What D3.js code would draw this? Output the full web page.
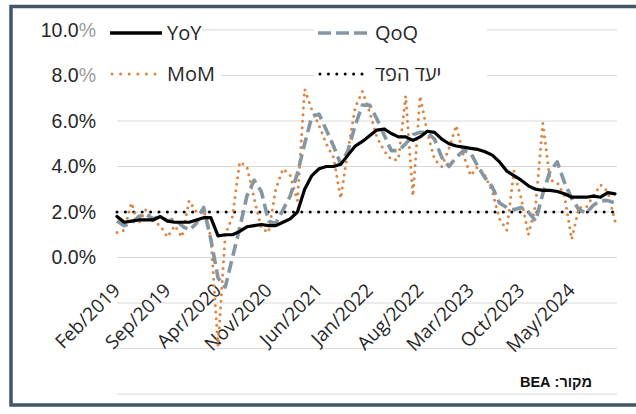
<!DOCTYPE html>
<html>
<head>
<meta charset="utf-8">
<script src="https://cdn.jsdelivr.net/npm/d3@7"></script>
<style>
  html, body { margin: 0; padding: 0; background: #fff; }
  svg { display: block; font-family: "Open Sans", Lato, "Liberation Sans", "DejaVu Sans", sans-serif; }
</style>
</head>
<body>
<svg id="chart" width="636" height="414"></svg>
<script>
// Core PCE inflation, monthly observations Feb 2019 – Nov 2024 (percent)
const months = d3.timeMonth.range(new Date(2019, 1, 1), new Date(2024, 11, 1));
const monthKeys = months.map(d3.timeFormat("%Y-%m"));

// Year over year
const yoy = [1.8, 1.55, 1.6, 1.65, 1.65, 1.65, 1.8, 1.6, 1.55, 1.55, 1.55, 1.65,
  1.75, 1.75, 0.95, 1.0, 1.0, 1.15, 1.35, 1.4, 1.45, 1.4, 1.4, 1.55,
  1.7, 2.0, 3.0, 3.6, 3.9, 4.0, 4.0, 4.1, 4.5, 4.9, 5.1, 5.35,
  5.6, 5.65, 5.45, 5.3, 5.3, 5.15, 5.3, 5.55, 5.5, 5.2, 5.0, 4.9,
  4.85, 4.8, 4.75, 4.65, 4.5, 4.2, 3.8, 3.6, 3.4, 3.15, 3.0, 2.95,
  2.95, 2.9, 2.8, 2.65, 2.65, 2.65, 2.7, 2.65, 2.85, 2.8];

// Three months annualized
const qoq = [1.6, 1.4, 1.5, 1.8, 1.9, 1.7, 1.8, 1.6, 1.7, 1.4, 1.2, 1.5,
  2.2, 0.8, -0.9, -1.3, 0.0, 1.3, 2.7, 3.4, 2.9, 1.6, 1.5, 2.1,
  2.7, 3.7, 5.0, 6.2, 6.3, 5.6, 4.9, 4.1, 4.7, 5.8, 6.7, 6.7,
  6.1, 5.4, 4.7, 4.7, 5.0, 5.4, 5.5, 5.5, 5.2, 4.4, 4.0, 4.4,
  4.7, 4.6, 4.0, 3.5, 3.1, 2.4, 2.2, 2.1, 2.2, 2.0, 1.6, 2.8,
  3.8, 4.2, 3.3, 2.6, 2.1, 1.95, 2.3, 2.5, 2.5, 2.4];

// Month over month, annualized
const mom = [1.1, 1.2, 2.4, 1.5, 2.1, 1.6, 1.4, 0.9, 1.4, 0.9, 2.5, 2.0,
  2.1, 0.9, -3.9, 1.0, 1.8, 4.2, 4.0, 2.6, 1.3, 1.1, 3.0, 3.9,
  3.6, 2.5, 7.4, 6.5, 5.8, 5.0, 4.4, 2.6, 4.7, 6.6, 7.3, 6.4,
  5.3, 4.7, 4.3, 4.3, 7.1, 2.7, 7.1, 5.5, 4.3, 4.0, 4.8, 5.8,
  4.5, 3.6, 4.0, 3.6, 2.9, 1.7, 1.2, 3.8, 2.6, 1.0, 2.3, 5.9,
  3.4, 3.3, 2.7, 0.8, 2.2, 2.2, 2.7, 3.2, 2.9, 1.6];

const fedTarget = 2;

const tickLabels = ["Feb/2019", "Sep/2019", "Apr/2020", "Nov/2020", "Jun/2021",
  "Jan/2022", "Aug/2022", "Mar/2023", "Oct/2023", "May/2024"];
const gridValues = [-6, -4, -2, 0, 2, 4, 6, 8, 10];
const labelValues = [0, 2, 4, 6, 8, 10];

const legendNames = { yoy: "YoY", qoq: "QoQ", mom: "MoM", fed: "יעד הפד" };
const sourceText = "מקור: BEA";

// ---- drawing ----
const svg = d3.select("#chart");
const colors = { yoy: "#000000", qoq: "#8496a2", mom: "#de8442", fed: "#000000", grid: "#d9d9d9", text: "#262626" };

const x = d3.scalePoint().domain(monthKeys).range([117, 615]);
const y = d3.scaleLinear().domain([-6, 10]).range([394, 30]);

// frame
svg.append("rect").attr("x", 0).attr("y", 0).attr("width", 636).attr("height", 414).attr("fill", "#fff");
svg.append("rect")
  .attr("x", 11).attr("y", 6.5).attr("width", 640).attr("height", 398.5)
  .attr("fill", "none").attr("stroke", "#44546a").attr("stroke-width", 3.5);

// gridlines
svg.append("g").selectAll("line").data(gridValues).join("line")
  .attr("x1", 117).attr("x2", 617)
  .attr("y1", d => y(d)).attr("y2", d => y(d))
  .attr("stroke", colors.grid).attr("stroke-width", 1.2);

// y axis labels (the legend box fades the percent sign on the top two)
const yAxis = svg.append("g").attr("transform", "translate(96,0)")
  .call(d3.axisLeft(y).tickValues(labelValues).tickSize(0).tickPadding(0)
    .tickFormat(() => ""));
yAxis.select(".domain").remove();
yAxis.selectAll(".tick text").each(function(d) {
  const t = d3.select(this).attr("fill", colors.text).attr("font-size", 19.5);
  t.append("tspan").text(d3.format(".1f")(d));
  t.append("tspan").attr("fill", d >= 8 ? "#9a9a9a" : colors.text).text("%");
});

// x axis labels, every seventh month
const xAxis = svg.append("g").attr("transform", `translate(0,${y(0)})`)
  .call(d3.axisBottom(x).tickValues(monthKeys.filter((d, i) => i % 7 === 0))
    .tickSize(0).tickFormat((d, i) => tickLabels[i]));
xAxis.select(".domain").remove();
xAxis.selectAll("text")
  .attr("y", 0).attr("dy", 0)
  .attr("transform", "translate(4,34) rotate(-45)")
  .attr("text-anchor", "end")
  .attr("fill", colors.text).attr("font-size", 19)
  .attr("font-family", "'Open Sans', Lato, sans-serif");

// Fed target
svg.append("line")
  .attr("x1", x(monthKeys[0])).attr("x2", x(monthKeys[monthKeys.length - 1]))
  .attr("y1", y(fedTarget)).attr("y2", y(fedTarget))
  .attr("stroke", colors.fed).attr("stroke-width", 3)
  .attr("stroke-linecap", "round").attr("stroke-dasharray", "0,8.4");

const line = d3.line().x((d, i) => x(monthKeys[i])).y(d => y(d));

const styles = {
  mom: { stroke: colors.mom, width: 3, dash: "0,6.6", cap: "round" },
  qoq: { stroke: colors.qoq, width: 3.6, dash: "12,5.5", cap: "butt" },
  yoy: { stroke: colors.yoy, width: 3.2, dash: null, cap: "round" }
};
const seriesData = { mom, qoq, yoy };

["mom", "qoq", "yoy"].forEach(k => {
  svg.append("path").datum(seriesData[k])
    .attr("d", line)
    .attr("fill", "none")
    .attr("stroke", styles[k].stroke)
    .attr("stroke-width", styles[k].width)
    .attr("stroke-linecap", styles[k].cap)
    .attr("stroke-linejoin", "round")
    .attr("stroke-dasharray", styles[k].dash);
});

// legend
const legendItems = [
  { key: "yoy", col: 0, row: 0, boxEnd: 202 },
  { key: "qoq", col: 1, row: 0, boxEnd: 487 },
  { key: "mom", col: 0, row: 1, boxEnd: 221 },
  { key: "fed", col: 1, row: 1, boxEnd: 487 }
];
const legendStyle = {
  yoy: { stroke: colors.yoy, width: 3.5, dash: null, cap: "butt" },
  qoq: { stroke: colors.qoq, width: 3.6, dash: "13,5", cap: "butt" },
  mom: { stroke: colors.mom, width: 3, dash: "0,8.6", cap: "round" },
  fed: { stroke: colors.fed, width: 3, dash: "0,8.4", cap: "round" }
};
const colX = [110, 318];
const rowY = [33, 74];
const legend = svg.append("g");
legendItems.forEach(it => {
  const g = legend.append("g");
  const x0 = colX[it.col], yy = rowY[it.row];
  g.append("rect").attr("x", x0 - 4).attr("y", yy - 12)
    .attr("width", it.boxEnd - x0 + 4).attr("height", 24).attr("fill", "#fff");
  const s = legendStyle[it.key];
  g.append("line").attr("x1", x0 + (s.cap === "round" ? 2 : 0)).attr("x2", x0 + 52)
    .attr("y1", yy).attr("y2", yy)
    .attr("stroke", s.stroke).attr("stroke-width", s.width)
    .attr("stroke-linecap", s.cap).attr("stroke-dasharray", s.dash);
  g.append("text").attr("x", x0 + 57).attr("y", yy).attr("dy", "0.36em")
    .attr("font-size", 20).attr("fill", colors.text)
    .text(legendNames[it.key]);
});

// source note
svg.append("text")
  .attr("x", 592).attr("y", 382).attr("dy", "0.35em")
  .attr("direction", "rtl").attr("text-anchor", "start")
  .attr("font-family", "'Liberation Sans', Arial, sans-serif")
  .attr("font-weight", "bold").attr("font-size", 14.5).attr("fill", "#111")
  .text(sourceText);
</script>
</body>
</html>
